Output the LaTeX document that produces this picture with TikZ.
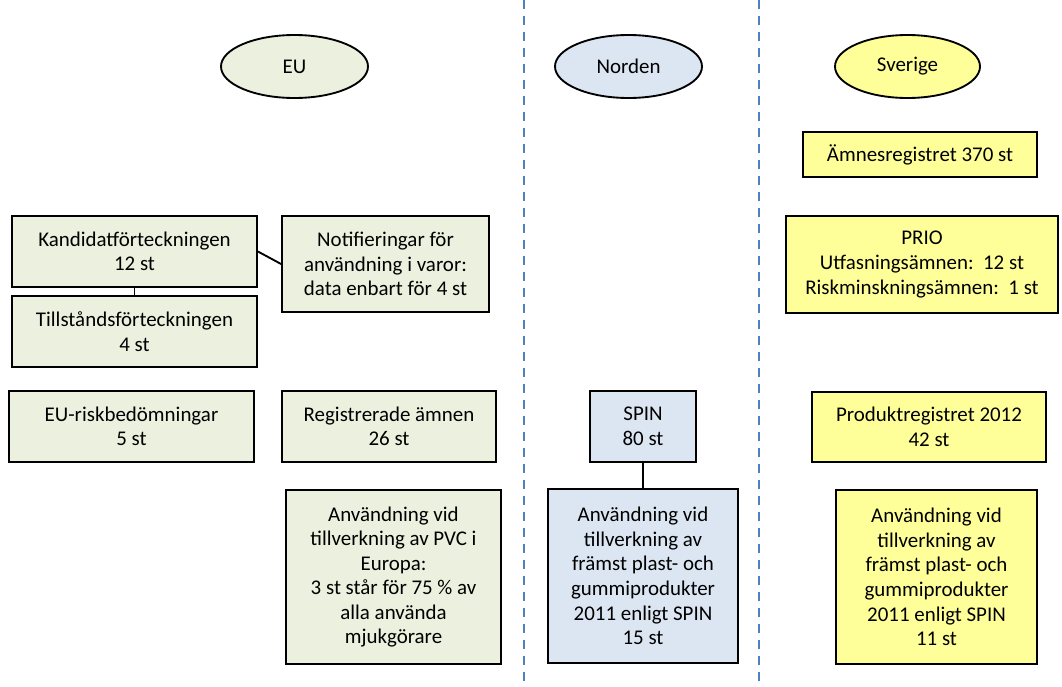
\documentclass[tikz,border=0pt]{standalone}
\usepackage{fontspec}
\setmainfont{Carlito}
\usetikzlibrary{shapes.geometric}
\definecolor{eugreen}{HTML}{EBF1DE}
\definecolor{nordblue}{HTML}{DCE6F2}
\definecolor{sveyellow}{HTML}{FFFF99}
\definecolor{sepblue}{HTML}{4F81BD}
\begin{document}
\begin{tikzpicture}[x=0.75pt,y=-0.75pt]
	\def\px{0.75pt}
	\tikzstyle{region} = [draw, line width=1.4pt, ellipse, minimum width=147*\px, minimum height=63*\px, inner sep=0pt, font=\fontsize{15.7}{18}\selectfont];
	\tikzstyle{block} = [draw, line width=1.4pt, rectangle, align=center, inner sep=2pt, font=\fontsize{15.7}{18.4}\selectfont];
	\tikzstyle{sep} = [sepblue, line width=1.4pt, dash pattern=on 7pt off 5pt];
	\tikzstyle{link} = [line width=1.4pt];
	\useasboundingbox (0,0) rectangle (1062,686);
	% column separators
	\coordinate (s1top) at (524,0);
	\coordinate (s1bot) at (524,686);
	\coordinate (s2top) at (759,0);
	\coordinate (s2bot) at (759,686);
	\draw[sep] (s1top) -- (s1bot);
	\draw[sep] (s2top) -- (s2bot);
	% headings
	\node[region, fill=eugreen] (eu) at (294.5,66.5) {EU};
	\node[region, fill=nordblue] (norden) at (628.5,66.5) {Norden};
	\node[region, fill=sveyellow, minimum width=145*\px] (sverige) at (907.5,66.5) {Sverige};
	% EU
	\node[block, fill=eugreen, minimum width=245*\px, minimum height=71*\px] (kand) at (134.5,251.5) {Kandidatförteckningen\\12 st};
	\node[block, fill=eugreen, minimum width=245*\px, minimum height=71*\px] (tills) at (134.5,331.5) {Tillståndsförteckningen\\4 st};
	\node[block, fill=eugreen, minimum width=207*\px, minimum height=96*\px] (notif) at (385.5,264) {Notifieringar för\\användning i varor:\\data enbart för 4 st};
	\node[block, fill=eugreen, minimum width=245*\px, minimum height=71*\px] (risk) at (131.5,426.5) {EU-riskbedömningar\\5 st};
	\node[block, fill=eugreen, minimum width=214*\px, minimum height=71*\px] (reg) at (389,426.5) {Registrerade ämnen\\26 st};
	\node[block, fill=eugreen, minimum width=215*\px, minimum height=174*\px] (pvc) at (393.5,577) {Användning vid\\tillverkning av PVC i\\Europa:\\3 st står för 75 \% av\\alla använda\\mjukgörare};
	% Norden
	\node[block, fill=nordblue, minimum width=106*\px, minimum height=71*\px] (spin) at (643,426.5) {SPIN\\80 st};
	\node[block, fill=nordblue, minimum width=190*\px, minimum height=174*\px] (spinuse) at (643,576) {Användning vid\\tillverkning av\\främst plast- och\\gummiprodukter\\2011 enligt SPIN\\15 st};
	% Sverige
	\node[block, fill=sveyellow, minimum width=234*\px, minimum height=45*\px] (amnes) at (920,154.5) {Ämnesregistret 370 st};
	\node[block, fill=sveyellow, minimum width=272*\px, minimum height=97*\px] (prio) at (922,264.5) {PRIO\\Utfasningsämnen:~~12 st\\Riskminskningsämnen:~~1 st};
	\node[block, fill=sveyellow, minimum width=234*\px, minimum height=70*\px] (prod) at (929,427) {Produktregistret 2012\\42 st};
	\node[block, fill=sveyellow, minimum width=201*\px, minimum height=174*\px] (sveuse) at (936.5,577) {Användning vid\\tillverkning av\\främst plast- och\\gummiprodukter\\2011 enligt SPIN\\11 st};
	% links
	\draw[link] (kand.south) -- (tills.north);
	\draw[link] (kand.east) -- (notif.west);
	\draw[link] (spin.south) -- (spinuse.north);
\end{tikzpicture}
\end{document}
